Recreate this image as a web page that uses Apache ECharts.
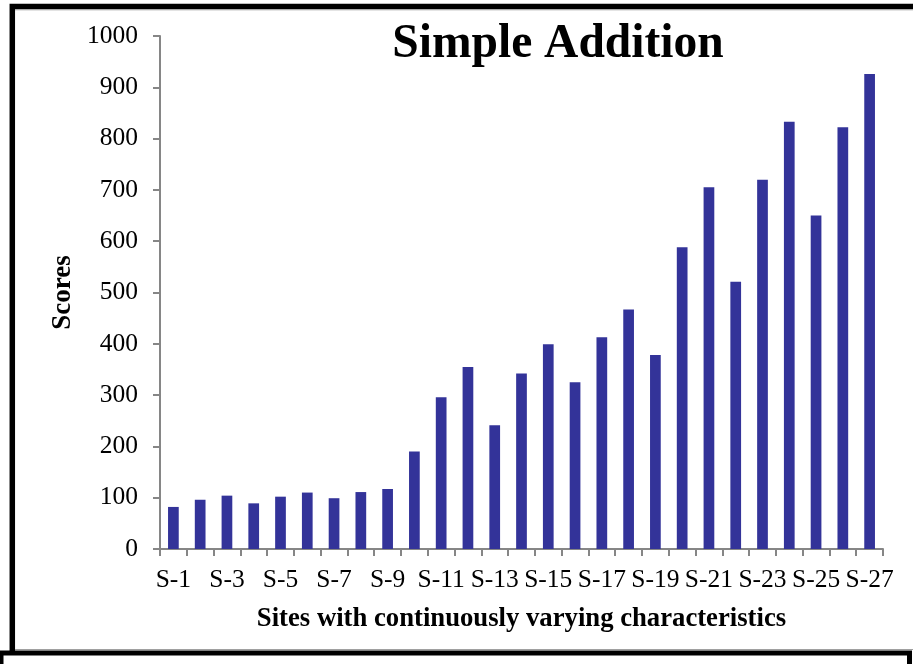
<!DOCTYPE html>
<html>
<head>
<meta charset="utf-8">
<title>Simple Addition</title>
<script src="https://cdn.jsdelivr.net/npm/echarts@6/dist/echarts.min.js"></script>
<style>
  html, body { margin: 0; padding: 0; background: #fff; }
  #chart { width: 913px; height: 664px; }
</style>
</head>
<body>
<div id="chart"></div>
<script>
// Site names along the x axis
const sites = [
  'S-1','S-2','S-3','S-4','S-5','S-6','S-7','S-8','S-9','S-10',
  'S-11','S-12','S-13','S-14','S-15','S-16','S-17','S-18','S-19','S-20',
  'S-21','S-22','S-23','S-24','S-25','S-26','S-27'
];

// Score for each site
const scores = [
  82, 96, 104, 89, 102, 110, 99, 111, 117, 190,
  296, 355, 241, 342, 399, 325, 413, 467, 378, 588,
  705, 521, 720, 833, 650, 822, 926
];

// Value axis range and step
const yMin = 0;
const yMax = 1000;
const yStep = 100;

const serif = '"Liberation Serif", "Times New Roman", serif';
const axisGrey = '#868686';

const chart = echarts.init(document.getElementById('chart'), null, { renderer: 'canvas' });

chart.setOption({
  animation: false,
  backgroundColor: '#ffffff',
  title: {
    text: 'Simple Addition',
    left: 553,
    top: 16,
    textAlign: 'center',
    textStyle: {
      fontFamily: serif,
      fontWeight: 'bold',
      fontSize: 47.5,
      color: '#000'
    }
  },
  grid: {
    left: 160,
    right: 30,
    top: 36,
    bottom: 115,
    containLabel: false
  },
  xAxis: {
    type: 'category',
    data: sites,
    boundaryGap: true,
    name: 'Sites with continuously varying characteristics',
    nameLocation: 'middle',
    nameGap: 57,
    nameTextStyle: {
      fontFamily: serif,
      fontWeight: 'bold',
      fontSize: 26.7,
      color: '#000'
    },
    axisLine: { show: true, lineStyle: { color: axisGrey, width: 2 } },
    axisTick: {
      show: true,
      interval: 0,
      alignWithLabel: false,
      length: 7,
      lineStyle: { color: axisGrey, width: 2 }
    },
    axisLabel: {
      interval: 1,
      margin: 18,
      fontFamily: serif,
      fontSize: 25.5,
      color: '#000'
    },
    splitLine: { show: false }
  },
  yAxis: {
    type: 'value',
    min: yMin,
    max: yMax,
    interval: yStep,
    name: 'Scores',
    nameLocation: 'middle',
    nameGap: 79,
    nameRotate: 90,
    nameTextStyle: {
      fontFamily: serif,
      fontWeight: 'bold',
      fontSize: 27,
      color: '#000'
    },
    axisLine: { show: true, lineStyle: { color: axisGrey, width: 2 } },
    axisTick: {
      show: true,
      inside: false,
      length: 7,
      lineStyle: { color: axisGrey, width: 2 }
    },
    axisLabel: {
      margin: 22,
      fontFamily: serif,
      fontSize: 25.5,
      color: '#000',
      formatter: (v) => String(v)
    },
    splitLine: { show: false }
  },
  series: [{
    type: 'bar',
    data: scores,
    barWidth: '40%',
    itemStyle: { color: '#333399' }
  }],
  graphic: [
    // outer frame of the chart panel
    {
      type: 'rect',
      silent: true,
      z: 100,
      shape: { x: 12.3, y: 6.5, width: 1000, height: 1000 },
      style: { fill: 'none', stroke: '#000', lineWidth: 5.5 }
    },
    {
      type: 'line',
      silent: true,
      z: 100,
      shape: { x1: 15, y1: 9.8, x2: 913, y2: 9.8 },
      style: { stroke: '#a0a0a0', lineWidth: 1 }
    },
    {
      type: 'line',
      silent: true,
      z: 100,
      shape: { x1: 15, y1: 649.5, x2: 913, y2: 649.5 },
      style: { stroke: '#a0a0a0', lineWidth: 1 }
    },
    // frame of the panel below
    {
      type: 'rect',
      silent: true,
      z: 101,
      shape: { x: 1, y: 653, width: 908.5, height: 100 },
      style: { fill: '#fff', stroke: '#000', lineWidth: 5 }
    }
  ]
});
</script>
</body>
</html>
